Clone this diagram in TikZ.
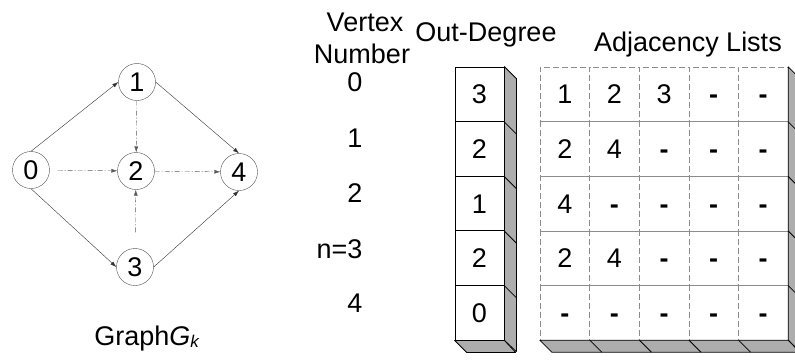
\documentclass[tikz,border=0pt]{standalone}
\usepackage{fontspec}
\setmainfont{Liberation Sans}
\usetikzlibrary{arrows.meta}

\begin{document}
\begin{tikzpicture}[x=1pt, y=-1pt, font=\fontsize{27}{32}\selectfont,
  vert/.style={circle, draw=black!70, thin, minimum size=37pt, inner sep=0pt},
  solidedge/.style={draw=black!80, thin, -{Latex[length=6pt,width=4pt]}},
  dashedge/.style={draw=black!65, thin, dash pattern=on 5pt off 2pt on 1pt off 2pt, -{Latex[length=6pt,width=4pt]}},
  degcell/.style={rectangle, draw=black, line width=0.8pt, minimum width=49pt, minimum height=54.6pt, inner sep=0pt, text height=19pt, text depth=0pt},
  adjcell/.style={rectangle, draw=black!45, thin, dash pattern=on 6pt off 3pt, minimum width=49.6pt, minimum height=54.6pt, inner sep=0pt, text height=19pt, text depth=0pt},
  sideface/.style={fill=black!32, draw=black, line width=0.8pt, line join=round},
  title/.style={anchor=base}]
\useasboundingbox (0,0) rectangle (795,360);
\node[vert] (v0) at (31,170) {0};
\node[vert] (v1) at (137,82) {1};
\node[vert] (v2) at (136,171) {2};
\node[vert] (v3) at (135,267) {3};
\node[vert] (v4) at (239,172) {4};
\draw[solidedge] (v0.north) -- (v1.west);
\draw[solidedge] (v1.east) -- (v4.north);
\draw[solidedge] (v0.south) -- (v3.west);
\draw[solidedge] (v3.east) -- (v4.south);
\draw[dashedge] (v1) -- (v2);
\draw[dashedge, shorten <=8pt] (v0) -- (v2);
\draw[dashedge] (v2) -- (v4);
\draw[dashedge, shorten <=16pt] (v3) -- (v2);
\node[title] (gcap) at (147,345) {Graph\textit{G}\raisebox{-2pt}{\fontsize{17}{17}\selectfont\textit{k}}};
\node[title] (vtitle) at (365,31) {Vertex};
\node[title] (ntitle) at (362,63) {Number};
\node[title] (dtitle) at (486,41) {Out-Degree};
\node[title] (atitle) at (688,51) {Adjacency Lists};
\node[anchor=base east] (vn0) at (366,91) {0};
\node[anchor=base east] (vn1) at (366,147) {1};
\node[anchor=base east] (vn2) at (366,202) {2};
\node[anchor=base east] (vn3) at (366,258) {n=3};
\node[anchor=base east] (vn4) at (366,312) {4};
\node[degcell] (deg0) at (479.5,94.3) {3};
\node[degcell] (deg1) at (479.5,148.9) {2};
\node[degcell] (deg2) at (479.5,203.5) {1};
\node[degcell] (deg3) at (479.5,258.1) {2};
\node[degcell] (deg4) at (479.5,312.7) {0};
\filldraw[sideface] (deg0.north east) -- ++(12,12) -- ++(0,273) -- (deg4.south east) -- cycle;
\filldraw[sideface] (deg4.south west) -- ++(12,12) -- ++(49,0) -- (deg4.south east) -- cycle;
\draw[line width=0.8pt] (deg0.south east) -- ++(12,12);
\draw[line width=0.8pt] (deg1.south east) -- ++(12,12);
\draw[line width=0.8pt] (deg2.south east) -- ++(12,12);
\draw[line width=0.8pt] (deg3.south east) -- ++(12,12);
\node[adjcell] (a00) at (564.8,94.3) {1};
\node[adjcell] (a01) at (614.4,94.3) {2};
\node[adjcell] (a02) at (664,94.3) {3};
\node[adjcell] (a03) at (713.6,94.3) {\textbf{-}};
\node[adjcell] (a04) at (763.2,94.3) {\textbf{-}};
\node[adjcell] (a10) at (564.8,148.9) {2};
\node[adjcell] (a11) at (614.4,148.9) {4};
\node[adjcell] (a12) at (664,148.9) {\textbf{-}};
\node[adjcell] (a13) at (713.6,148.9) {\textbf{-}};
\node[adjcell] (a14) at (763.2,148.9) {\textbf{-}};
\node[adjcell] (a20) at (564.8,203.5) {4};
\node[adjcell] (a21) at (614.4,203.5) {\textbf{-}};
\node[adjcell] (a22) at (664,203.5) {\textbf{-}};
\node[adjcell] (a23) at (713.6,203.5) {\textbf{-}};
\node[adjcell] (a24) at (763.2,203.5) {\textbf{-}};
\node[adjcell] (a30) at (564.8,258.1) {2};
\node[adjcell] (a31) at (614.4,258.1) {4};
\node[adjcell] (a32) at (664,258.1) {\textbf{-}};
\node[adjcell] (a33) at (713.6,258.1) {\textbf{-}};
\node[adjcell] (a34) at (763.2,258.1) {\textbf{-}};
\node[adjcell] (a40) at (564.8,312.7) {\textbf{-}};
\node[adjcell] (a41) at (614.4,312.7) {\textbf{-}};
\node[adjcell] (a42) at (664,312.7) {\textbf{-}};
\node[adjcell] (a43) at (713.6,312.7) {\textbf{-}};
\node[adjcell] (a44) at (763.2,312.7) {\textbf{-}};
\filldraw[sideface] (a04.north east) -- ++(12,12) -- ++(0,273) -- (a44.south east) -- cycle;
\filldraw[sideface] (a40.south west) -- ++(12,12) -- ++(248,0) -- (a44.south east) -- cycle;
\draw[line width=0.8pt] (a04.south east) -- ++(12,12);
\draw[line width=0.8pt] (a14.south east) -- ++(12,12);
\draw[line width=0.8pt] (a24.south east) -- ++(12,12);
\draw[line width=0.8pt] (a34.south east) -- ++(12,12);
\draw[line width=0.8pt] (a40.south east) -- ++(12,12);
\draw[line width=0.8pt] (a41.south east) -- ++(12,12);
\draw[line width=0.8pt] (a42.south east) -- ++(12,12);
\draw[line width=0.8pt] (a43.south east) -- ++(12,12);
\end{tikzpicture}
\end{document}
